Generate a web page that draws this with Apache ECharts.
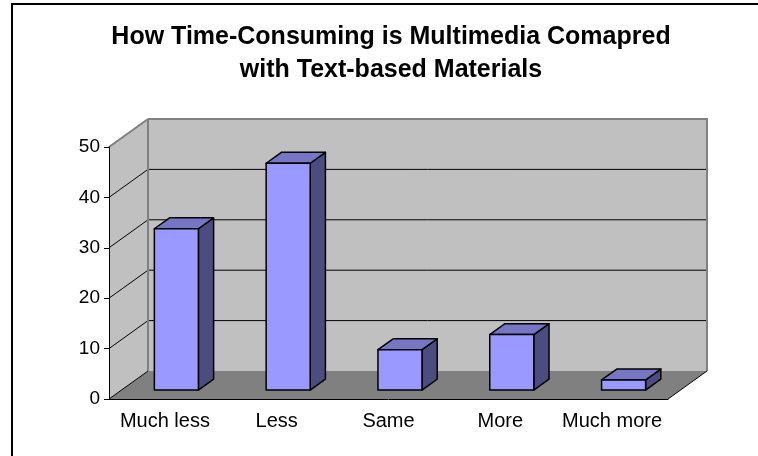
<!DOCTYPE html>
<html>
<head>
<meta charset="utf-8">
<script src="https://cdn.jsdelivr.net/npm/echarts@6/dist/echarts.min.js"></script>
<style>
    html, body { margin: 0; padding: 0; background: #fff; }
    #chart { width: 758px; height: 456px; }
</style>
</head>
<body>
<div id="chart"></div>
<script>
var categories = ['Much less', 'Less', 'Same', 'More', 'Much more'];
var values = [32, 45, 8, 11, 2];
var yTicks = [0, 10, 20, 30, 40, 50];
var titleLines = ['How Time-Consuming is Multimedia Comapred', 'with Text-based Materials'];

// 3D look: depth vector of the floor, bar position inside that depth
var DEPTH_X = 39;
var DEPTH_Y = -28;
var BAR_FRONT = 0.32;
var BAR_BACK = 0.71;
var BAR_WIDTH = 0.394;
var FONT = '"Liberation Sans", Arial, sans-serif';

function line(x1, y1, x2, y2, color, width) {
    return {
        type: 'line',
        shape: { x1: x1, y1: y1, x2: x2, y2: y2 },
        style: { stroke: color, lineWidth: width || 1 }
    };
}

function poly(points, fill, stroke) {
    return {
        type: 'polygon',
        shape: { points: points },
        style: { fill: fill, stroke: stroke || null, lineWidth: stroke ? 1.5 : 0, lineJoin: 'round' }
    };
}

/**
 * 画背墙、左墙、地板和网格线
 */
function renderWalls(params, api) {
    var rect = params.coordSys;
    var x0 = rect.x;
    var x1 = rect.x + rect.width;
    var yBottom = api.coord([0, yTicks[0]])[1];
    var yTop = api.coord([0, yTicks[yTicks.length - 1]])[1];
    var dx = DEPTH_X, dy = DEPTH_Y;
    var children = [];

    children.push(poly([[x0, yBottom], [x0, yTop], [x0 + dx, yTop + dy], [x0 + dx, yBottom + dy]], '#c0c0c0'));
    children.push(poly([[x0 + dx, yTop + dy], [x1 + dx, yTop + dy], [x1 + dx, yBottom + dy], [x0 + dx, yBottom + dy]], '#c0c0c0'));
    children.push(poly([[x0, yBottom], [x1, yBottom], [x1 + dx, yBottom + dy], [x0 + dx, yBottom + dy]], '#808080'));

    for (var i = 0; i < yTicks.length; i++) {
        var y = api.coord([0, yTicks[i]])[1];
        var last = i === yTicks.length - 1;
        children.push(line(x0, y, x0 + dx, y + dy, last ? '#808080' : '#000', last ? 2 : 1));
        if (i > 0 && !last) {
            children.push(line(x0 + dx, y + dy, x1 + dx, y + dy, '#000', 1));
        }
    }

    // 背墙边框
    children.push(line(x0 + dx, yTop + dy, x1 + dx + 1, yTop + dy, '#808080', 2));
    children.push(line(x0 + dx, yTop + dy, x0 + dx, yBottom + dy, '#808080', 2));
    children.push(line(x1 + dx, yTop + dy, x1 + dx, yBottom + dy, '#808080', 2));
    children.push(line(x1, yBottom, x1 + dx, yBottom + dy, '#000', 1));

    return { type: 'group', children: children };
}

/**
 * 画一个立体柱子：正面、顶面、侧面
 */
function renderBar(params, api) {
    var idx = api.value(0);
    var base = api.coord([idx, 0]);
    var top = api.coord([idx, api.value(1)]);
    var w = api.size([1, 0])[0] * BAR_WIDTH;
    var left = base[0] - w / 2 + BAR_FRONT * DEPTH_X - 1;
    var right = left + w;
    var bottom = base[1] + BAR_FRONT * DEPTH_Y;
    var ceil = top[1] + BAR_FRONT * DEPTH_Y;
    var ox = (BAR_BACK - BAR_FRONT) * DEPTH_X;
    var oy = (BAR_BACK - BAR_FRONT) * DEPTH_Y;

    return {
        type: 'group',
        children: [
            poly([[right, bottom], [right, ceil], [right + ox, ceil + oy], [right + ox, bottom + oy]], '#4c4c80', '#000'),
            poly([[left, ceil], [right, ceil], [right + ox, ceil + oy], [left + ox, ceil + oy]], '#7676c4', '#000'),
            poly([[left, bottom], [left, ceil], [right, ceil], [right, bottom]], '#9999ff', '#000')
        ]
    };
}

var chart = echarts.init(document.getElementById('chart'), null, { renderer: 'canvas' });

chart.setOption({
    animation: false,
    backgroundColor: '#fff',
    graphic: [
        {
            type: 'rect',
            shape: { x: 12, y: 4, width: 800, height: 500 },
            style: { fill: 'none', stroke: '#000', lineWidth: 2 }
        },
        {
            type: 'text', x: 391, y: 37,
            style: { text: titleLines[0], font: 'bold 25px ' + FONT, fill: '#000', textAlign: 'center', textVerticalAlign: 'middle' }
        },
        {
            type: 'text', x: 391, y: 70,
            style: { text: titleLines[1], font: 'bold 25px ' + FONT, fill: '#000', textAlign: 'center', textVerticalAlign: 'middle' }
        }
    ],
    grid: { left: 109, right: 90, top: 147, bottom: 57 },
    xAxis: {
        type: 'category',
        data: categories,
        z: 5,
        axisLine: { lineStyle: { color: '#000', width: 1 } },
        axisTick: { length: 5, lineStyle: { color: '#000' } },
        axisLabel: { color: '#000', fontSize: 20, fontFamily: FONT, margin: 12, interval: 0 }
    },
    yAxis: {
        type: 'value',
        min: 0,
        max: 50,
        interval: 10,
        z: 5,
        axisLine: { show: true, lineStyle: { color: '#000', width: 1 } },
        axisTick: { show: true, length: 5, lineStyle: { color: '#000' } },
        axisLabel: { color: '#000', fontSize: 19, fontFamily: FONT, margin: 9 },
        splitLine: { show: false }
    },
    series: [
        {
            type: 'custom',
            z: 1,
            silent: true,
            renderItem: renderWalls,
            data: [[0, 0]]
        },
        {
            type: 'custom',
            z: 2,
            renderItem: renderBar,
            encode: { x: 0, y: 1 },
            data: values.map(function(v, i) {
                return [i, v];
            })
        }
    ]
});
</script>
</body>
</html>
